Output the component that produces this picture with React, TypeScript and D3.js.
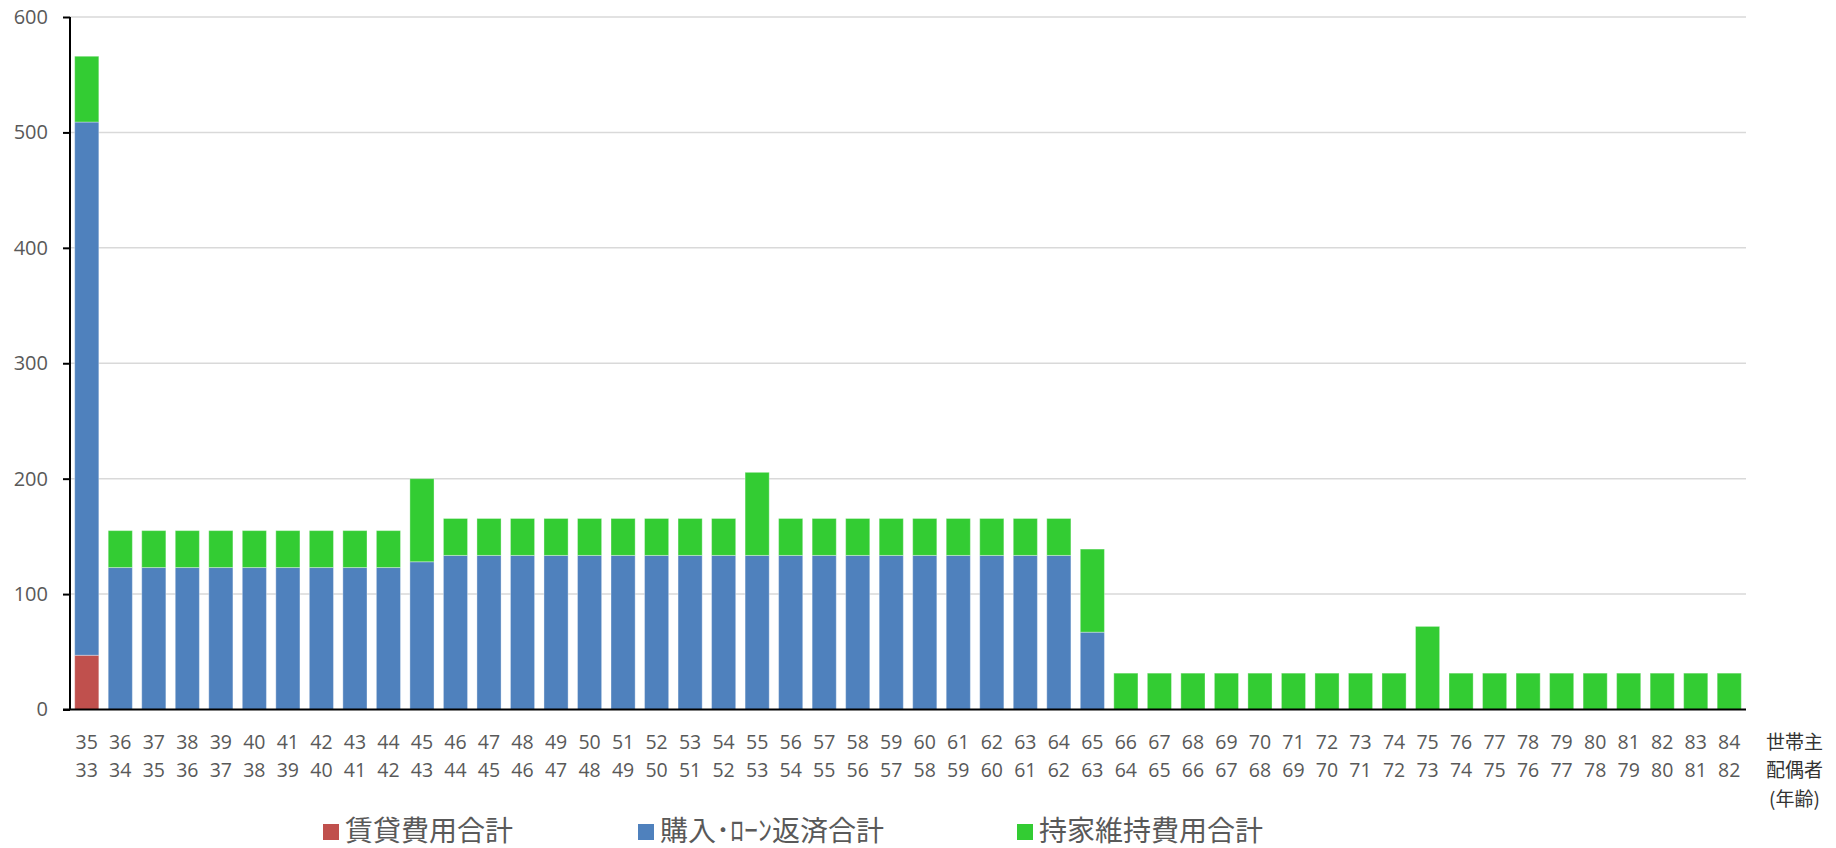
import React, { useEffect, useRef } from 'react';
import * as d3 from 'd3';

// 世帯主の年齢 / 配偶者の年齢
const headAges = d3.range(35, 85).map(String);
const spouseAges = d3.range(33, 83).map(String);

const rentCost = [47, ...Array(49).fill(0)];
const loanCost = [
  462,
  123, 123, 123, 123, 123, 123, 123, 123, 123,
  128,
  133.5, 133.5, 133.5, 133.5, 133.5, 133.5, 133.5, 133.5, 133.5, 133.5,
  133.5, 133.5, 133.5, 133.5, 133.5, 133.5, 133.5, 133.5, 133.5,
  67,
  0, 0, 0, 0, 0, 0, 0, 0, 0, 0, 0, 0, 0, 0, 0, 0, 0, 0, 0,
];
const upkeepCost = [
  57,
  32, 32, 32, 32, 32, 32, 32, 32, 32,
  72,
  32, 32, 32, 32, 32, 32, 32, 32, 32,
  72,
  32, 32, 32, 32, 32, 32, 32, 32, 32,
  72,
  31.5, 31.5, 31.5, 31.5, 31.5, 31.5, 31.5, 31.5, 31.5,
  72,
  31.5, 31.5, 31.5, 31.5, 31.5, 31.5, 31.5, 31.5, 31.5,
];

const seriesNames = ['賃貸費用合計', '購入･ﾛｰﾝ返済合計', '持家維持費用合計'];
const seriesColors = ['#c0504d', '#4f81bd', '#33cc33'];
const yTicks = [0, 100, 200, 300, 400, 500, 600];

const App: React.FC = () => {
  const ref = useRef<SVGSVGElement>(null);

  useEffect(() => {
    const svg = d3.select(ref.current);
    svg.selectAll('*').remove();

    const left = 70, right = 1746, top = 17, bottom = 709.5;

    const rows = headAges.map((age, i) => ({
      age,
      rent: rentCost[i],
      loan: loanCost[i],
      upkeep: upkeepCost[i],
    }));

    const x = d3.scaleBand()
      .domain(headAges)
      .range([left, right])
      .paddingInner(0.28)
      .paddingOuter(0.14);

    const y = d3.scaleLinear().domain([0, 600]).range([bottom, top]);

    // グリッド線
    svg.append('g')
      .selectAll('line')
      .data(yTicks.slice(1))
      .enter().append('line')
      .attr('x1', left)
      .attr('x2', right)
      .attr('y1', d => y(d))
      .attr('y2', d => y(d))
      .attr('stroke', '#d9d9d9')
      .attr('stroke-width', 1.5);

    // 積み上げ棒
    const stack = d3.stack<any>().keys(['rent', 'loan', 'upkeep'])(rows);
    svg.append('g')
      .selectAll('g')
      .data(stack)
      .enter().append('g')
      .attr('fill', (_d, i) => seriesColors[i])
      .selectAll('rect')
      .data(d => d.filter(p => p[1] - p[0] > 0))
      .enter().append('rect')
      .attr('x', d => x(d.data.age) ?? 0)
      .attr('width', x.bandwidth())
      .attr('y', d => y(d[1]))
      .attr('height', d => y(d[0]) - y(d[1]))
      .attr('stroke', 'rgba(255,255,255,0.35)')
      .attr('stroke-width', 1);

    // Y軸
    const yAxis = svg.append('g')
      .attr('transform', `translate(${left},0)`)
      .call(d3.axisLeft(y).tickValues(yTicks).tickSize(7).tickPadding(15));
    yAxis.select('.domain').attr('stroke', '#000').attr('stroke-width', 2)
      .attr('d', `M0,${top}V${bottom}`);
    yAxis.selectAll('.tick line').attr('stroke', '#000').attr('stroke-width', 2);
    yAxis.selectAll('text')
      .attr('fill', '#595959')
      .style('font-family', '"Open Sans", sans-serif')
      .style('font-size', '20px');

    // X軸
    svg.append('line')
      .attr('x1', left - 7)
      .attr('x2', right)
      .attr('y1', bottom)
      .attr('y2', bottom)
      .attr('stroke', '#000')
      .attr('stroke-width', 2);

    const labels = svg.append('g')
      .style('font-family', '"Open Sans", sans-serif')
      .style('font-size', '19.5px')
      .attr('fill', '#595959')
      .attr('text-anchor', 'middle');
    labels.selectAll('.head')
      .data(headAges)
      .enter().append('text')
      .attr('x', d => (x(d) ?? 0) + x.bandwidth() / 2)
      .attr('y', 742)
      .attr('dy', '0.35em')
      .text(d => d);
    labels.selectAll('.spouse')
      .data(spouseAges)
      .enter().append('text')
      .attr('x', (_d, i) => (x(headAges[i]) ?? 0) + x.bandwidth() / 2)
      .attr('y', 770)
      .attr('dy', '0.35em')
      .text(d => d);

    // 右側のラベル
    svg.append('g')
      .style('font-family', '"Noto Sans CJK JP", sans-serif')
      .style('font-size', '19px')
      .attr('fill', '#333')
      .selectAll('text')
      .data(['世帯主', '配偶者', '(年齢)'])
      .enter().append('text')
      .attr('x', (_d, i) => (i === 2 ? 1769 : 1766))
      .attr('y', (_d, i) => 742 + i * 28.5)
      .attr('dy', '0.35em')
      .text(d => d);

    // 凡例
    const legendX = [323, 638, 1017];
    const legend = svg.append('g')
      .selectAll('g')
      .data(seriesNames)
      .enter().append('g')
      .attr('transform', (_d, i) => `translate(${legendX[i]},831)`);
    legend.append('rect')
      .attr('x', 0)
      .attr('y', -7)
      .attr('width', 16)
      .attr('height', 16)
      .attr('fill', (_d, i) => seriesColors[i]);
    legend.append('text')
      .attr('x', 22)
      .attr('dy', '0.36em')
      .attr('fill', '#595959')
      .style('font-family', '"Noto Sans CJK JP", sans-serif')
      .style('font-size', '28px')
      .text(d => d);
  }, []);

  return (
    <svg
      ref={ref}
      width={1836}
      height={848}
      style={{ position: 'absolute', left: 0, top: 0, background: '#fff' }}
    />
  );
};

export default App;
